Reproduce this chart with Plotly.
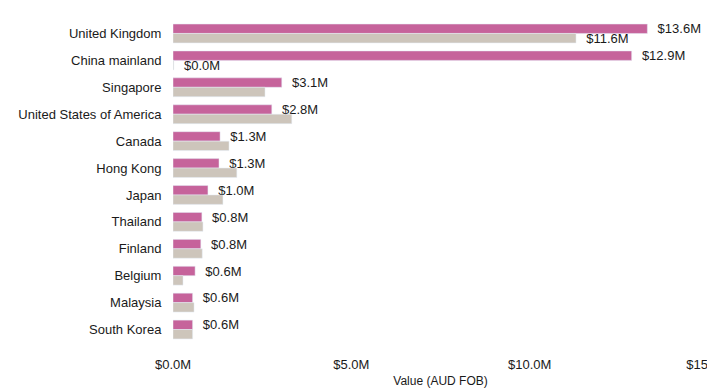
import plotly.graph_objects as go

countries = ["United Kingdom", "China mainland", "Singapore", "United States of America",
             "Canada", "Hong Kong", "Japan", "Thailand", "Finland", "Belgium",
             "Malaysia", "South Korea"]
current_values = [13.6, 12.9, 3.1, 2.8, 1.3, 1.3, 1.0, 0.8, 0.8, 0.6, 0.6, 0.6]
current_bar_len = [13.3, 12.86, 3.05, 2.77, 1.32, 1.29, 0.98, 0.81, 0.78, 0.62, 0.55, 0.55]
previous_values = [11.6, 0.0, 2.6, 3.3, 1.6, 1.8, 1.4, 0.8, 0.8, 0.3, 0.6, 0.6]
previous_bar_len = [11.3, 0.02, 2.58, 3.33, 1.57, 1.79, 1.40, 0.84, 0.82, 0.28, 0.59, 0.55]
previous_label_shown = [True, True, False, False, False, False, False, False, False, False, False, False]
x_ticks = [0, 5, 10, 15]
x_tick_labels = ["$0.0M", "$5.0M", "$10.0M", "$15.0M"]

PINK = "#C6639B"
BEIGE = "#CDC5BB"
FONT = "Arial, Liberation Sans, sans-serif"
NB = "\u00a0\u00a0"

cur_text = [NB + f"${v:.1f}M" for v in current_values]
prev_text = [NB + f"${v:.1f}M" if s else "" for v, s in zip(previous_values, previous_label_shown)]

fig = go.Figure()
fig.add_trace(go.Bar(
    y=countries, x=current_bar_len, orientation="h", marker_color=PINK,
    text=cur_text, textposition="outside", constraintext="none", cliponaxis=False,
    textfont=dict(size=13, color="#1a1a1a", family=FONT), name="Current",
))
fig.add_trace(go.Bar(
    y=countries, x=previous_bar_len, orientation="h", marker_color=BEIGE,
    text=prev_text, textposition="outside", constraintext="none", cliponaxis=False,
    textfont=dict(size=13, color="#1a1a1a", family=FONT), name="Previous",
))

fig.update_layout(
    width=707, height=384,
    margin=dict(l=165, r=7, t=12, b=49, autoexpand=False),
    paper_bgcolor="white", plot_bgcolor="white",
    barmode="group", bargap=0.3, bargroupgap=0,
    showlegend=False,
    font=dict(family=FONT, size=13, color="#1a1a1a"),
)
fig.update_yaxes(autorange="reversed", showgrid=False, zeroline=False, showline=False,
                 automargin=False,
                 ticks="outside", ticklen=8, tickcolor="rgba(0,0,0,0)",
                 tickfont=dict(size=13, color="#1a1a1a", family=FONT))
fig.update_xaxes(range=[0, 15], tickvals=x_ticks, ticktext=x_tick_labels,
                 showgrid=False, zeroline=False, showline=False,
                 automargin=False, ticklabeloverflow="allow",
                 ticks="outside", ticklen=9, tickcolor="rgba(0,0,0,0)",
                 tickfont=dict(size=13, color="#1a1a1a", family=FONT),
                 title=dict(text="Value (AUD FOB)", font=dict(size=12, color="#1a1a1a", family=FONT),
                            standoff=6))

fig.write_html("out.html")
